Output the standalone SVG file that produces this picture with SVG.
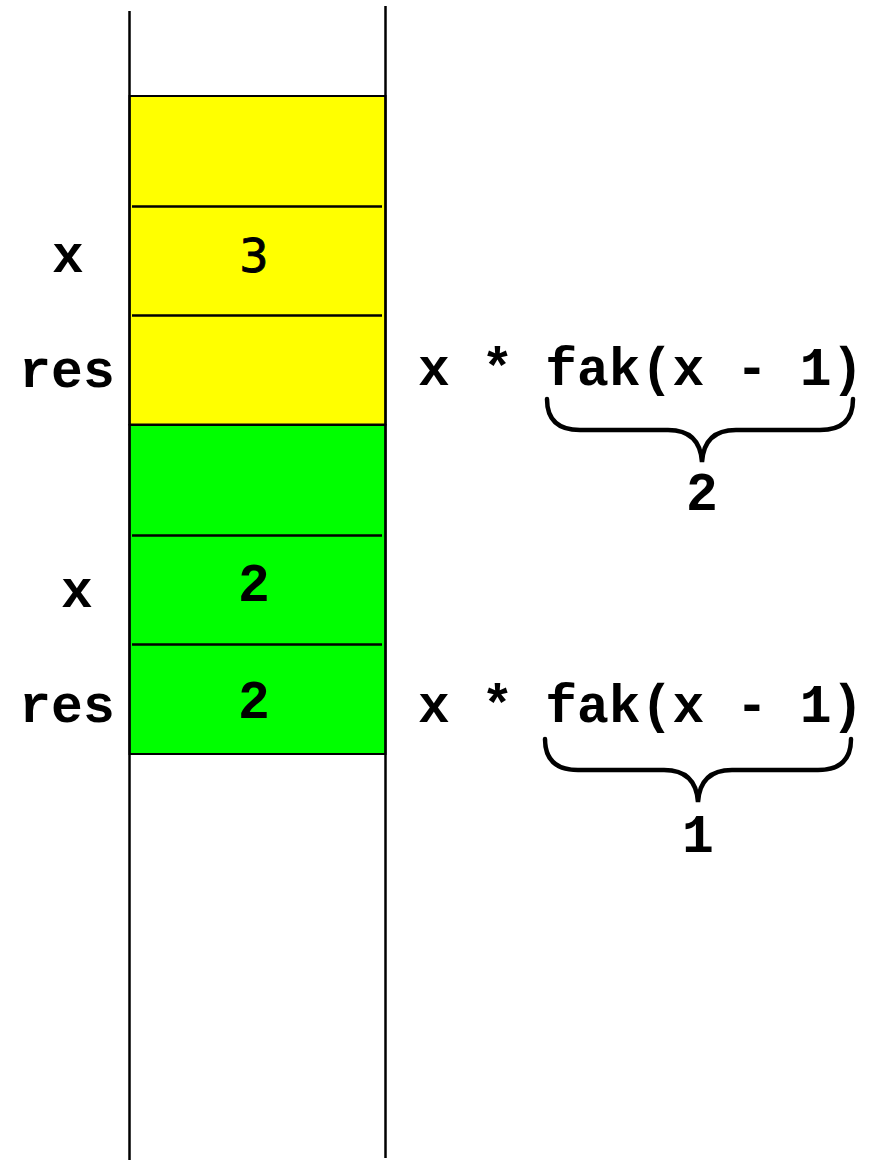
<svg xmlns="http://www.w3.org/2000/svg" width="876" height="1160" viewBox="0 0 876 1160">
<style>
.mono{font-family:"Liberation Mono","Courier New",monospace;font-weight:bold;font-size:53px;fill:#000}
.sans{font-family:"DejaVu Sans",sans-serif;font-size:46px;fill:#000;stroke:#000;stroke-width:1}
.cell{stroke:#000;stroke-width:2}
.div{stroke:#000;stroke-width:2.5}
.brace{fill:none;stroke:#000;stroke-width:4.5;stroke-linecap:round}
.rail{stroke:#000;stroke-width:2.5}
</style>
<rect width="876" height="1160" fill="#fff"/>
<g id="frame-yellow">
<rect class="cell" x="129.5" y="96" width="256" height="328.5" fill="#ffff00"/>
<line class="div" x1="132" y1="206.5" x2="382" y2="206.5"/>
<line class="div" x1="132" y1="315.5" x2="382" y2="315.5"/>
<text class="sans" x="254" y="272" text-anchor="middle">3</text>
</g>
<g id="frame-green">
<rect class="cell" x="129.5" y="425" width="256" height="329" fill="#00ff00"/>
<line class="div" x1="132" y1="535.5" x2="382" y2="535.5"/>
<line class="div" x1="132" y1="644.5" x2="382" y2="644.5"/>
<text class="mono" x="254" y="601" text-anchor="middle">2</text>
<text class="mono" x="254" y="718" text-anchor="middle">2</text>
</g>
<g id="rails">
<line class="rail" x1="129.5" y1="11" x2="129.5" y2="1160"/>
<line class="rail" x1="385.5" y1="6" x2="385.5" y2="1158"/>
</g>
<g id="labels">
<text class="mono" x="68" y="272" text-anchor="middle">x</text>
<text class="mono" x="67" y="387" text-anchor="middle">res</text>
<text class="mono" x="77" y="607" text-anchor="middle">x</text>
<text class="mono" x="67" y="722" text-anchor="middle">res</text>
</g>
<g id="expr1">
<text class="mono" x="418" y="385">x * fak(x - 1)</text>
<path class="brace" d="M547,399 Q547,430 580,430 L668,430 Q700,430 702,462 Q704,430 736,430 L820,430 Q853,430 853,399"/>
<text class="mono" x="702" y="510" text-anchor="middle">2</text>
</g>
<g id="expr2">
<text class="mono" x="418" y="722">x * fak(x - 1)</text>
<path class="brace" d="M545,739 Q545,770 578,770 L664,770 Q696,770 698,802 Q700,770 732,770 L818,770 Q851,770 851,739"/>
<text class="mono" x="698" y="852" text-anchor="middle">1</text>
</g>
</svg>
